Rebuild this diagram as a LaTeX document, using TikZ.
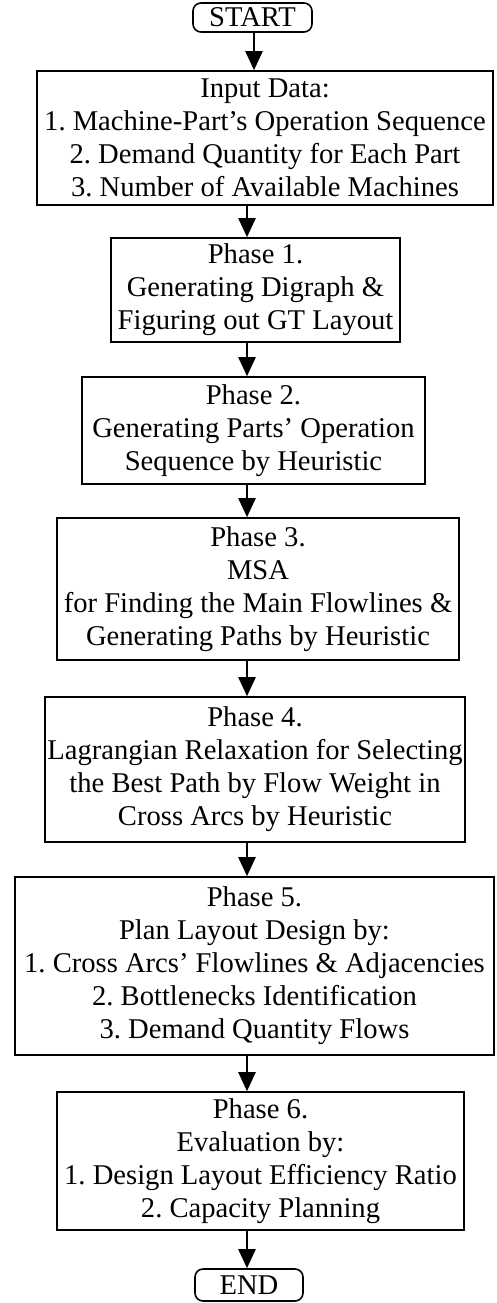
\documentclass[tikz,border=0pt]{standalone}
\usepackage{fontspec}
\setmainfont{Liberation Serif}
\usetikzlibrary{arrows.meta}
\frenchspacing
\begin{document}
\begin{tikzpicture}[x=1pt, y=-1pt,
  box/.style={draw, line width=1.6pt, rectangle, align=center, inner sep=0pt,
    font=\fontsize{28.6}{33}\selectfont},
  term/.style={draw, line width=1.6pt, rounded corners=8pt, align=center, inner sep=0pt,
    font=\fontsize{28.6}{33}\selectfont},
  flow/.style={line width=2.4pt, -{Triangle[length=19pt,width=17pt]}}]
\useasboundingbox (0,0) rectangle (496,1303);

% column of the connectors
\coordinate (ax) at (247,0);

\node[term, minimum width=119pt, minimum height=29pt] (start) at (252.5,17.5) {START};

\node[box, minimum width=456pt, minimum height=134pt] (input) at (265,138)
  {Input Data:\\1. Machine-Part's Operation Sequence\\2. Demand Quantity for Each Part\\3. Number of Available Machines};

\node[box, minimum width=289pt, minimum height=104pt] (p1) at (255.5,290)
  {Phase 1.\\Generating Digraph \&\\Figuring out GT Layout};

\node[box, minimum width=343pt, minimum height=107pt] (p2) at (253.5,430.5)
  {Phase 2.\\Generating Parts' Operation\\Sequence by Heuristic};

\node[box, minimum width=402pt, minimum height=142pt] (p3) at (258,589)
  {Phase 3.\\MSA\\for Finding the Main Flowlines \&\\Generating Paths by Heuristic};

\node[box, minimum width=420pt, minimum height=145pt] (p4) at (255,769.5)
  {Phase 4.\\Lagrangian Relaxation for Selecting\\the Best Path by Flow Weight in\\Cross Arcs by Heuristic};

\node[box, minimum width=479pt, minimum height=178pt] (p5) at (254.5,966)
  {Phase 5.\\Plan Layout Design by:\\1. Cross Arcs' Flowlines \& Adjacencies\\2. Bottlenecks Identification\\3. Demand Quantity Flows};

\node[box, minimum width=407pt, minimum height=138pt] (p6) at (260.5,1161)
  {Phase 6.\\Evaluation by:\\1. Design Layout Efficiency Ratio\\2. Capacity Planning};

\node[term, minimum width=108pt, minimum height=32pt] (end) at (249,1285) {END};

% connectors
\draw[flow] (start.south -| 254,0) -- (input.north -| 254,0);
\draw[flow] (input.south -| ax) -- (p1.north -| ax);
\draw[flow] (p1.south -| ax) -- (p2.north -| ax);
\draw[flow] (p2.south -| ax) -- (p3.north -| ax);
\draw[flow] (p3.south -| ax) -- (p4.north -| ax);
\draw[flow] (p4.south -| ax) -- (p5.north -| ax);
\draw[flow] (p5.south -| ax) -- (p6.north -| ax);
\draw[flow] (p6.south -| ax) -- (end.north -| ax);
\end{tikzpicture}
\end{document}
